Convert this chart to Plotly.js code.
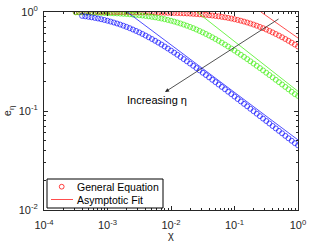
<!DOCTYPE html>
<html>
<head>
<meta charset="utf-8">
<script src="https://cdn.plot.ly/plotly-3.0.1.min.js"></script>
<style>html,body{margin:0;padding:0;background:#fff;}#chart{width:309px;height:241px;}</style>
</head>
<body>
<div id="chart"></div>
<script>
// chi values (x) for the circle markers
var chi = [0.0003162,0.0003548,0.0003981,0.0004467,0.0005012,0.0005623,0.000631,0.0007079,0.0007943,0.0008913,
  0.001,0.001122,0.001259,0.001413,0.001585,0.001778,0.001995,0.002239,0.002512,0.002818,
  0.003162,0.003548,0.003981,0.004467,0.005012,0.005623,0.00631,0.007079,0.007943,0.008913,
  0.01,0.01122,0.01259,0.01413,0.01585,0.01778,0.01995,0.02239,0.02512,0.02818,
  0.03162,0.03548,0.03981,0.04467,0.05012,0.05623,0.0631,0.07079,0.07943,0.08913,
  0.1,0.1122,0.1259,0.1413,0.1585,0.1778,0.1995,0.2239,0.2512,0.2818,
  0.3162,0.3548,0.3981,0.4467,0.5012,0.5623,0.631,0.7079,0.7943,0.8913,1.0];
var chiBlue = chi.slice(2);

var eRed = [0.9994,0.9993,0.9992,0.9991,0.9990,0.9989,0.9987,0.9986,0.9984,0.9982,
  0.9980,0.9978,0.9975,0.9972,0.9969,0.9965,0.9961,0.9956,0.9950,0.9944,
  0.9938,0.9930,0.9922,0.9912,0.9902,0.9890,0.9877,0.9862,0.9846,0.9827,
  0.9807,0.9784,0.9758,0.9730,0.9699,0.9664,0.9625,0.9582,0.9535,0.9482,
  0.9424,0.9361,0.9291,0.9214,0.9131,0.9039,0.8940,0.8833,0.8716,0.8591,
  0.8457,0.8314,0.8162,0.8001,0.7830,0.7652,0.7465,0.7271,0.7071,0.6865,
  0.6653,0.6438,0.6220,0.6000,0.5778,0.5556,0.5336,0.5118,0.4902,0.4689,0.4481];
var eGreen = [0.9922,0.9912,0.9902,0.9890,0.9877,0.9862,0.9846,0.9827,0.9807,0.9784,
  0.9758,0.9730,0.9699,0.9664,0.9625,0.9582,0.9535,0.9482,0.9424,0.9361,
  0.9291,0.9214,0.9131,0.9039,0.8940,0.8833,0.8716,0.8591,0.8457,0.8314,
  0.8162,0.8001,0.7830,0.7652,0.7465,0.7271,0.7071,0.6865,0.6653,0.6438,
  0.6220,0.6000,0.5778,0.5556,0.5336,0.5118,0.4902,0.4689,0.4481,0.4277,
  0.4078,0.3886,0.3699,0.3518,0.3344,0.3176,0.3015,0.2861,0.2713,0.2571,
  0.2436,0.2308,0.2185,0.2068,0.1957,0.1851,0.1751,0.1656,0.1565,0.1480,0.1420];
var eBlue = [0.9131,0.9039,0.8940,0.8833,0.8716,0.8591,0.8457,0.8314,0.8162,0.8001,
  0.7830,0.7652,0.7465,0.7271,0.7071,0.6865,0.6653,0.6438,0.6220,0.6000,
  0.5778,0.5556,0.5336,0.5118,0.4902,0.4689,0.4481,0.4277,0.4078,0.3886,
  0.3699,0.3518,0.3344,0.3176,0.3015,0.2861,0.2713,0.2571,0.2436,0.2308,
  0.2185,0.2068,0.1957,0.1851,0.1751,0.1656,0.1565,0.1480,0.1399,0.1322,
  0.1249,0.1180,0.1115,0.1053,0.0995,0.0940,0.0888,0.0838,0.0792,0.0748,
  0.0706,0.0667,0.0630,0.0595,0.0561,0.0530,0.0501,0.0473,0.0450];

// asymptotic fits (straight lines in log-log)
var fitRedX = [0.261, 1.0],   fitRedY = [1.0, 0.546];
var fitGreenX = [0.0257, 1.0], fitGreenY = [1.0, 0.158];
var fitBlueX = [0.00204, 1.0], fitBlueY = [1.0, 0.051];

var xTickVals = [1e-4, 1e-3, 1e-2, 1e-1, 1];
var xTickText = ['10<sup>-4</sup>','10<sup>-3</sup>','10<sup>-2</sup>','10<sup>-1</sup>','10<sup>0</sup>'];
var yTickVals = [1e-2, 1e-1, 1];
var yTickText = ['10<sup>-2</sup>','10<sup>-1</sup>','10<sup>0</sup>'];
var legendLabels = ['General Equation', 'Asymptotic Fit'];
var xTitle = 'χ', yTitle = 'e<sub>η</sub>';

function minorTicks(lo, hi){
  var out = [];
  for (var p = lo; p < hi; p++) for (var d = 2; d <= 9; d++) out.push(d * Math.pow(10, p));
  return out;
}

var RED = '#ff0000', GREEN = '#33ee00', BLUE = '#0000ff';
function circles(x, y, c){
  return {x: x, y: y, type: 'scatter', mode: 'markers', name: 'General Equation', showlegend: false,
    marker: {symbol: 'circle-open', size: 5, color: c, line: {width: 0.65, color: c}}};
}
function fit(x, y, c){
  return {x: x, y: y, type: 'scatter', mode: 'lines', name: 'Asymptotic Fit', showlegend: false,
    line: {color: c, width: 0.7}};
}

var data = [
  circles(chi, eRed, RED),
  fit(fitRedX, fitRedY, RED),
  circles(chi, eGreen, GREEN),
  fit(fitGreenX, fitGreenY, GREEN),
  circles(chiBlue, eBlue, BLUE),
  fit(fitBlueX, fitBlueY, BLUE)
];

var axisCommon = {
  type: 'log', showgrid: false, zeroline: false, showline: true, mirror: 'ticks',
  linecolor: '#262626', linewidth: 1, ticks: 'inside', ticklen: 4, tickcolor: '#262626',
  tickmode: 'array', tickfont: {size: 11, color: '#262626'}
};

// legend drawn as a boxed key (pixel geometry converted to paper coords)
var PW = 254, PH = 198;
function px(v){ return (v - 44) / PW; }
function py(v){ return (210 - v) / PH; }

var layout = {
  width: 309, height: 241,
  margin: {l: 44, r: 11, t: 12, b: 31},
  paper_bgcolor: '#fff', plot_bgcolor: '#fff',
  showlegend: false,
  font: {family: 'Liberation Sans, Arial, sans-serif', color: '#262626', size: 10},
  xaxis: Object.assign({}, axisCommon, {
    range: [-4, 0], tickvals: xTickVals, ticktext: xTickText, ticklabelstandoff: 5,
    minor: {ticks: 'inside', ticklen: 2, tickcolor: '#262626', tickmode: 'array', tickvals: minorTicks(-4, 0), showgrid: false}
  }),
  yaxis: Object.assign({}, axisCommon, {
    range: [-2, 0], tickvals: yTickVals, ticktext: yTickText, ticklabelstandoff: 3,
    minor: {ticks: 'inside', ticklen: 2, tickcolor: '#262626', tickmode: 'array', tickvals: minorTicks(-2, 0), showgrid: false},
    title: {text: yTitle, font: {size: 11}, standoff: 4}
  }),
  shapes: [
    {type: 'rect', xref: 'paper', yref: 'paper', x0: px(47), x1: px(163), y0: py(208), y1: py(179),
      line: {color: '#000', width: 1}, fillcolor: '#fff', layer: 'above'},
    {type: 'circle', xref: 'paper', yref: 'paper', x0: px(59.3), x1: px(64.1), y0: py(189.1), y1: py(184.3),
      line: {color: RED, width: 0.75}, layer: 'above'},
    {type: 'line', xref: 'paper', yref: 'paper', x0: px(51), x1: px(73), y0: py(199.5), y1: py(199.5),
      line: {color: RED, width: 0.7}, layer: 'above'}
  ],
  annotations: [
    {x: -2.094, y: -0.808, ax: -0.283, ay: -0.061, xref: 'x', yref: 'y', axref: 'x', ayref: 'y',
      text: '', showarrow: true, arrowhead: 2, arrowsize: 1, arrowwidth: 0.8, arrowcolor: '#262626'},
    {x: -2.22, y: -0.889, xref: 'x', yref: 'y', text: 'Increasing η', showarrow: false,
      font: {size: 11, color: '#000'}},
    {x: px(75), y: py(186.5), xref: 'paper', yref: 'paper', xanchor: 'left', yanchor: 'middle',
      text: legendLabels[0], showarrow: false, font: {size: 10.5, color: '#000'}},
    {x: px(75), y: py(199.5), xref: 'paper', yref: 'paper', xanchor: 'left', yanchor: 'middle',
      text: legendLabels[1], showarrow: false, font: {size: 10.5, color: '#000'}},
    {x: 0.5, y: py(235), xref: 'paper', yref: 'paper', xanchor: 'center', yanchor: 'middle',
      text: xTitle, showarrow: false, font: {size: 11, color: '#262626'}}
  ]
};

Plotly.newPlot('chart', data, layout, {staticPlot: true, displayModeBar: false});
</script>
</body>
</html>
